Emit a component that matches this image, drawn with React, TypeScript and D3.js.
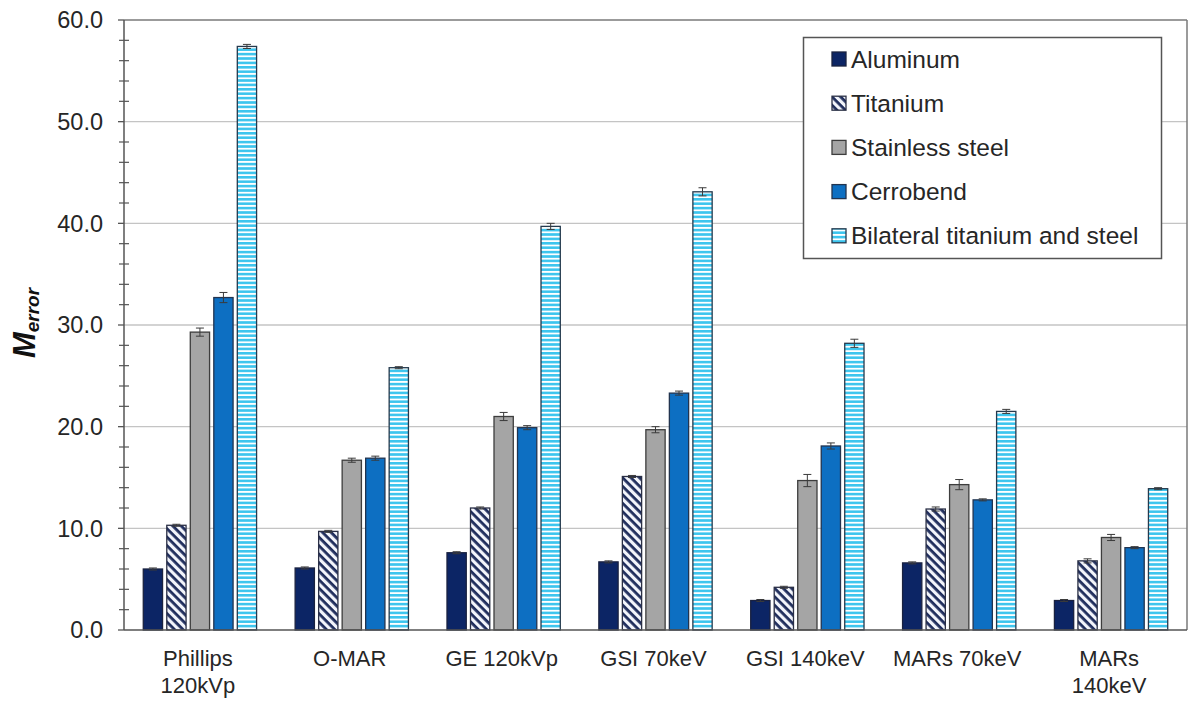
import React from "react";
import * as d3 from "d3";

// categories (line breaks as in the figure)
const categories = [
  "Phillips\n120kVp",
  "O-MAR",
  "GE 120kVp",
  "GSI 70keV",
  "GSI 140keV",
  "MARs 70keV",
  "MARs\n140keV",
];
const seriesNames = [
  "Aluminum",
  "Titanium",
  "Stainless steel",
  "Cerrobend",
  "Bilateral titanium and steel",
];
// mean M_error per category
const aluminum = [6.0, 6.1, 7.6, 6.7, 2.9, 6.6, 2.9];
const titanium = [10.3, 9.7, 12.0, 15.1, 4.2, 11.9, 6.8];
const stainless = [29.3, 16.7, 21.0, 19.7, 14.7, 14.3, 9.1];
const cerrobend = [32.7, 16.9, 19.9, 23.3, 18.1, 12.8, 8.1];
const bilateral = [57.4, 25.8, 39.7, 43.1, 28.2, 21.5, 13.9];
// error bar half-widths
const aluminumErr = [0.1, 0.1, 0.1, 0.1, 0.1, 0.1, 0.1];
const titaniumErr = [0.1, 0.1, 0.1, 0.1, 0.1, 0.2, 0.2];
const stainlessErr = [0.4, 0.2, 0.4, 0.3, 0.6, 0.5, 0.3];
const cerrobendErr = [0.5, 0.2, 0.2, 0.2, 0.3, 0.1, 0.1];
const bilateralErr = [0.2, 0.1, 0.3, 0.4, 0.4, 0.2, 0.1];
const yTicks = [0, 10, 20, 30, 40, 50, 60];

const values = [aluminum, titanium, stainless, cerrobend, bilateral];
const errors = [aluminumErr, titaniumErr, stainlessErr, cerrobendErr, bilateralErr];
const fills = ["#0c2565", "url(#hatchTi)", "#a5a5a5", "#0d6fc2", "url(#stripeBi)"];
const strokes = ["#1a2240", "#2a2f45", "#3d3d3d", "#22344f", "#24394d"];

const font = "'Liberation Sans', Arial, sans-serif";

export default function App() {
  const width = 1191;
  const height = 703;
  const left = 124;
  const right = 1187;
  const top = 20;
  const bottom = 630;

  // scales
  const y = d3.scaleLinear().domain([0, 60]).range([bottom, top]);
  const x0 = d3.scaleBand().domain(categories).range([left, right]);
  const x1 = d3
    .scaleBand()
    .domain(seriesNames)
    .range([0, x0.bandwidth()])
    .paddingInner(0.18)
    .paddingOuter(0.82);
  const minor = d3.range(0, 60.01, 2).filter((v) => v % 10 !== 0);

  return (
    <div style={{ position: "absolute", left: 0, top: 0 }}>
      <svg width={width} height={height} style={{ display: "block", background: "#fff" }}>
        <defs>
          <pattern id="hatchTi" width="6" height="6" patternUnits="userSpaceOnUse" patternTransform="rotate(45)">
            <rect width="6" height="6" fill="#f3f5fb" />
            <rect width="6" height="2.8" fill="#1f2d5c" />
          </pattern>
          <pattern id="stripeBi" width="6" height="4.4" patternUnits="userSpaceOnUse">
            <rect width="6" height="4.4" fill="#ffffff" />
            <rect width="6" height="2.6" fill="#3cc5ee" />
          </pattern>
        </defs>

        {/* gridlines */}
        {yTicks
          .filter((t) => t > 0 && t < 60)
          .map((t) => (
            <line key={t} x1={left} x2={right} y1={y(t)} y2={y(t)} stroke="#c4c4c4" strokeWidth={1.3} />
          ))}
        {/* plot frame top and right */}
        <line x1={left} x2={right} y1={top} y2={top} stroke="#7a7a7a" strokeWidth={1.5} />
        <line x1={right} x2={right} y1={top} y2={bottom} stroke="#7a7a7a" strokeWidth={1.5} />

        {/* bars */}
        {categories.map((c, ci) => (
          <g key={c} transform={`translate(${x0(c)},0)`}>
            {seriesNames.map((s, si) => {
              const v = values[si][ci];
              const e = errors[si][ci];
              const bx = x1(s)!;
              const bw = x1.bandwidth();
              const cx = bx + bw / 2;
              return (
                <g key={s}>
                  <rect
                    x={bx}
                    y={y(v)}
                    width={bw}
                    height={bottom - y(v)}
                    fill={fills[si]}
                    stroke={strokes[si]}
                    strokeWidth={1.3}
                  />
                  <g stroke="#3a3a3a" strokeWidth={1}>
                    <line x1={cx} x2={cx} y1={y(v + e)} y2={y(v - e)} />
                    <line x1={cx - 4} x2={cx + 4} y1={y(v + e)} y2={y(v + e)} />
                    <line x1={cx - 4} x2={cx + 4} y1={y(v - e)} y2={y(v - e)} />
                  </g>
                </g>
              );
            })}
          </g>
        ))}

        {/* axes */}
        <line x1={left} x2={left} y1={top} y2={bottom} stroke="#555" strokeWidth={1.5} />
        <line x1={left} x2={right} y1={bottom} y2={bottom} stroke="#555" strokeWidth={1.5} />
        {yTicks.map((t) => (
          <g key={t}>
            <line x1={left - 6} x2={left} y1={y(t)} y2={y(t)} stroke="#555" strokeWidth={1.3} />
            <text
              x={left - 21}
              y={y(t)}
              dy="0.35em"
              textAnchor="end"
              fontFamily={font}
              fontSize={23.5}
              fill="#262626"
            >
              {t.toFixed(1)}
            </text>
          </g>
        ))}
        {minor.map((t) => (
          <line key={t} x1={left - 5} x2={left + 5} y1={y(t)} y2={y(t)} stroke="#555" strokeWidth={1.2} />
        ))}

        {/* category labels */}
        {categories.map((c) => (
          <text
            key={c}
            x={x0(c)! + x0.bandwidth() / 2}
            y={666}
            textAnchor="middle"
            fontFamily={font}
            fontSize={22}
            fill="#262626"
          >
            {c.split("\n").map((line, i) => (
              <tspan key={i} x={x0(c)! + x0.bandwidth() / 2 - 2} dy={i === 0 ? 0 : 27}>
                {line}
              </tspan>
            ))}
          </text>
        ))}

        {/* y axis title */}
        <text
          transform="translate(35,323) rotate(-90)"
          textAnchor="middle"
          fontFamily={font}
          fontWeight="bold"
          fontStyle="italic"
          fill="#111"
        >
          <tspan fontSize={31}>M</tspan>
          <tspan fontSize={19} dy={4}>error</tspan>
        </text>

        {/* legend */}
        <rect x={803.5} y={37.5} width={358} height={221} fill="#fff" stroke="#555" strokeWidth={1.5} />
        {seriesNames.map((s, si) => (
          <g key={s} transform={`translate(832,${59 + si * 44.2})`}>
            <rect x={0} y={-7} width={14} height={14} fill={fills[si]} stroke={strokes[si]} strokeWidth={1.3} />
            <text x={19} y={0} dy="0.35em" fontFamily={font} fontSize={24.5} fill="#262626">
              {s}
            </text>
          </g>
        ))}
      </svg>
    </div>
  );
}
